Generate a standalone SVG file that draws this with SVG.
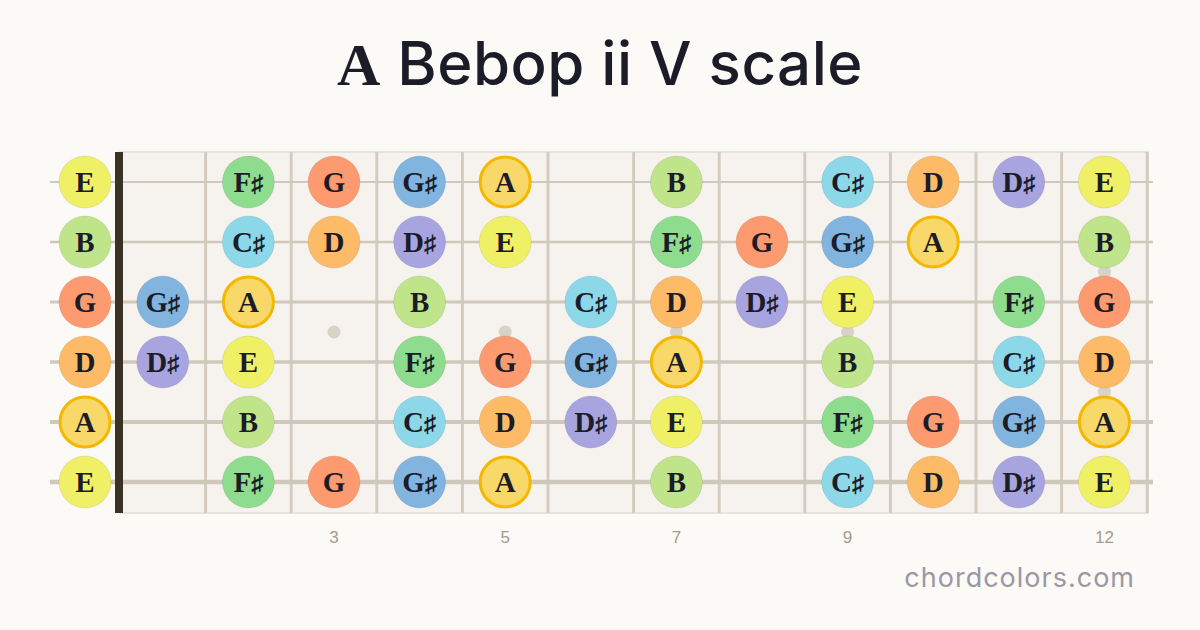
<svg xmlns="http://www.w3.org/2000/svg" width="1200" height="630" viewBox="0 0 1200 630">
<style>
.bg{fill:#fbfaf7}
.board{fill:#f6f3ef;stroke:#e2ddd5;stroke-width:1.5}
.fret{stroke:#d4ccc0;stroke-width:3}
.str{stroke:#d0c8bb}
.dot{fill:#d8d2c7}
.n circle{stroke:#00000014;stroke-width:1}
.n text{font-family:"Liberation Serif","DejaVu Serif",serif;font-weight:bold;font-size:29px;fill:#1c1c28;text-anchor:middle}
.n tspan{font-size:24px}
.root circle{stroke:#f5b800;stroke-width:3}
.E{fill:#f0f066}.B{fill:#c0e48a}.Fs{fill:#8edc8e}.Cs{fill:#8cd8e8}.G{fill:#fd9a70}.Gs{fill:#82b4e0}.D{fill:#fdbb68}.Ds{fill:#a8a4e0}.A{fill:#f9d86a}
.num{font-family:"Liberation Sans",Arial,sans-serif;font-size:17px;fill:#a39c8e;text-anchor:middle}
</style>
<rect class="bg" x="0" y="0" width="1200" height="630"/>
<g id="title">
<text x="600" y="85" text-anchor="middle" font-size="60" fill="#1c1c28" letter-spacing="0.5"><tspan font-family="Liberation Serif,serif" font-weight="bold">A</tspan><tspan font-family="Inter,'Open Sans',sans-serif" font-weight="500"> Bebop ii V  scale</tspan></text>
</g>
<g id="fretboard">
<rect class="board" x="120" y="152" width="1028" height="361"/>
<g class="fret">
<line x1="205.6" y1="152" x2="205.6" y2="513"/><line x1="291.2" y1="152" x2="291.2" y2="513"/><line x1="376.8" y1="152" x2="376.8" y2="513"/><line x1="462.4" y1="152" x2="462.4" y2="513"/><line x1="548" y1="152" x2="548" y2="513"/><line x1="633.6" y1="152" x2="633.6" y2="513"/><line x1="719.2" y1="152" x2="719.2" y2="513"/><line x1="804.8" y1="152" x2="804.8" y2="513"/><line x1="890.4" y1="152" x2="890.4" y2="513"/><line x1="976" y1="152" x2="976" y2="513"/><line x1="1061.6" y1="152" x2="1061.6" y2="513"/><line x1="1147.2" y1="152" x2="1147.2" y2="513"/>
</g>
<g id="markers">
<circle class="dot" cx="334" cy="332" r="6.5"/><circle class="dot" cx="505.2" cy="332" r="6.5"/><circle class="dot" cx="676.4" cy="332" r="6.5"/><circle class="dot" cx="847.6" cy="332" r="6.5"/><circle class="dot" cx="1104.4" cy="272" r="6.5"/><circle class="dot" cx="1104.4" cy="392" r="6.5"/>
</g>
<g id="strings" class="str">
<line x1="50" y1="182" x2="1153" y2="182" stroke-width="2"/>
<line x1="50" y1="242" x2="1153" y2="242" stroke-width="2.5"/>
<line x1="50" y1="302" x2="1153" y2="302" stroke-width="3"/>
<line x1="50" y1="362" x2="1153" y2="362" stroke-width="3.5"/>
<line x1="50" y1="422" x2="1153" y2="422" stroke-width="4"/>
<line x1="50" y1="482" x2="1153" y2="482" stroke-width="4.5"/>
</g>
<rect id="nut" x="115" y="152" width="8" height="361" fill="#3a3224"/>
</g>
<g id="numbers">
<text class="num" x="334" y="543">3</text><text class="num" x="505.2" y="543">5</text><text class="num" x="676.4" y="543">7</text><text class="num" x="847.6" y="543">9</text><text class="num" x="1104.4" y="543">12</text>
</g>
<g id="notes">
<g id="s1">
<g class="n"><circle class="E" cx="85" cy="182" r="26"/><text x="85" y="192">E</text></g>
<g class="n"><circle class="Fs" cx="248.4" cy="182" r="26"/><text x="248.4" y="192">F<tspan>♯</tspan></text></g>
<g class="n"><circle class="G" cx="334" cy="182" r="26"/><text x="334" y="192">G</text></g>
<g class="n"><circle class="Gs" cx="419.6" cy="182" r="26"/><text x="419.6" y="192">G<tspan>♯</tspan></text></g>
<g class="n root"><circle class="A" cx="505.2" cy="182" r="25"/><text x="505.2" y="192">A</text></g>
<g class="n"><circle class="B" cx="676.4" cy="182" r="26"/><text x="676.4" y="192">B</text></g>
<g class="n"><circle class="Cs" cx="847.6" cy="182" r="26"/><text x="847.6" y="192">C<tspan>♯</tspan></text></g>
<g class="n"><circle class="D" cx="933.2" cy="182" r="26"/><text x="933.2" y="192">D</text></g>
<g class="n"><circle class="Ds" cx="1018.8" cy="182" r="26"/><text x="1018.8" y="192">D<tspan>♯</tspan></text></g>
<g class="n"><circle class="E" cx="1104.4" cy="182" r="26"/><text x="1104.4" y="192">E</text></g>
</g>
<g id="s2">
<g class="n"><circle class="B" cx="85" cy="242" r="26"/><text x="85" y="252">B</text></g>
<g class="n"><circle class="Cs" cx="248.4" cy="242" r="26"/><text x="248.4" y="252">C<tspan>♯</tspan></text></g>
<g class="n"><circle class="D" cx="334" cy="242" r="26"/><text x="334" y="252">D</text></g>
<g class="n"><circle class="Ds" cx="419.6" cy="242" r="26"/><text x="419.6" y="252">D<tspan>♯</tspan></text></g>
<g class="n"><circle class="E" cx="505.2" cy="242" r="26"/><text x="505.2" y="252">E</text></g>
<g class="n"><circle class="Fs" cx="676.4" cy="242" r="26"/><text x="676.4" y="252">F<tspan>♯</tspan></text></g>
<g class="n"><circle class="G" cx="762" cy="242" r="26"/><text x="762" y="252">G</text></g>
<g class="n"><circle class="Gs" cx="847.6" cy="242" r="26"/><text x="847.6" y="252">G<tspan>♯</tspan></text></g>
<g class="n root"><circle class="A" cx="933.2" cy="242" r="25"/><text x="933.2" y="252">A</text></g>
<g class="n"><circle class="B" cx="1104.4" cy="242" r="26"/><text x="1104.4" y="252">B</text></g>
</g>
<g id="s3">
<g class="n"><circle class="G" cx="85" cy="302" r="26"/><text x="85" y="312">G</text></g>
<g class="n"><circle class="Gs" cx="162.8" cy="302" r="26"/><text x="162.8" y="312">G<tspan>♯</tspan></text></g>
<g class="n root"><circle class="A" cx="248.4" cy="302" r="25"/><text x="248.4" y="312">A</text></g>
<g class="n"><circle class="B" cx="419.6" cy="302" r="26"/><text x="419.6" y="312">B</text></g>
<g class="n"><circle class="Cs" cx="590.8" cy="302" r="26"/><text x="590.8" y="312">C<tspan>♯</tspan></text></g>
<g class="n"><circle class="D" cx="676.4" cy="302" r="26"/><text x="676.4" y="312">D</text></g>
<g class="n"><circle class="Ds" cx="762" cy="302" r="26"/><text x="762" y="312">D<tspan>♯</tspan></text></g>
<g class="n"><circle class="E" cx="847.6" cy="302" r="26"/><text x="847.6" y="312">E</text></g>
<g class="n"><circle class="Fs" cx="1018.8" cy="302" r="26"/><text x="1018.8" y="312">F<tspan>♯</tspan></text></g>
<g class="n"><circle class="G" cx="1104.4" cy="302" r="26"/><text x="1104.4" y="312">G</text></g>
</g>
<g id="s4">
<g class="n"><circle class="D" cx="85" cy="362" r="26"/><text x="85" y="372">D</text></g>
<g class="n"><circle class="Ds" cx="162.8" cy="362" r="26"/><text x="162.8" y="372">D<tspan>♯</tspan></text></g>
<g class="n"><circle class="E" cx="248.4" cy="362" r="26"/><text x="248.4" y="372">E</text></g>
<g class="n"><circle class="Fs" cx="419.6" cy="362" r="26"/><text x="419.6" y="372">F<tspan>♯</tspan></text></g>
<g class="n"><circle class="G" cx="505.2" cy="362" r="26"/><text x="505.2" y="372">G</text></g>
<g class="n"><circle class="Gs" cx="590.8" cy="362" r="26"/><text x="590.8" y="372">G<tspan>♯</tspan></text></g>
<g class="n root"><circle class="A" cx="676.4" cy="362" r="25"/><text x="676.4" y="372">A</text></g>
<g class="n"><circle class="B" cx="847.6" cy="362" r="26"/><text x="847.6" y="372">B</text></g>
<g class="n"><circle class="Cs" cx="1018.8" cy="362" r="26"/><text x="1018.8" y="372">C<tspan>♯</tspan></text></g>
<g class="n"><circle class="D" cx="1104.4" cy="362" r="26"/><text x="1104.4" y="372">D</text></g>
</g>
<g id="s5">
<g class="n root"><circle class="A" cx="85" cy="422" r="25"/><text x="85" y="432">A</text></g>
<g class="n"><circle class="B" cx="248.4" cy="422" r="26"/><text x="248.4" y="432">B</text></g>
<g class="n"><circle class="Cs" cx="419.6" cy="422" r="26"/><text x="419.6" y="432">C<tspan>♯</tspan></text></g>
<g class="n"><circle class="D" cx="505.2" cy="422" r="26"/><text x="505.2" y="432">D</text></g>
<g class="n"><circle class="Ds" cx="590.8" cy="422" r="26"/><text x="590.8" y="432">D<tspan>♯</tspan></text></g>
<g class="n"><circle class="E" cx="676.4" cy="422" r="26"/><text x="676.4" y="432">E</text></g>
<g class="n"><circle class="Fs" cx="847.6" cy="422" r="26"/><text x="847.6" y="432">F<tspan>♯</tspan></text></g>
<g class="n"><circle class="G" cx="933.2" cy="422" r="26"/><text x="933.2" y="432">G</text></g>
<g class="n"><circle class="Gs" cx="1018.8" cy="422" r="26"/><text x="1018.8" y="432">G<tspan>♯</tspan></text></g>
<g class="n root"><circle class="A" cx="1104.4" cy="422" r="25"/><text x="1104.4" y="432">A</text></g>
</g>
<g id="s6">
<g class="n"><circle class="E" cx="85" cy="482" r="26"/><text x="85" y="492">E</text></g>
<g class="n"><circle class="Fs" cx="248.4" cy="482" r="26"/><text x="248.4" y="492">F<tspan>♯</tspan></text></g>
<g class="n"><circle class="G" cx="334" cy="482" r="26"/><text x="334" y="492">G</text></g>
<g class="n"><circle class="Gs" cx="419.6" cy="482" r="26"/><text x="419.6" y="492">G<tspan>♯</tspan></text></g>
<g class="n root"><circle class="A" cx="505.2" cy="482" r="25"/><text x="505.2" y="492">A</text></g>
<g class="n"><circle class="B" cx="676.4" cy="482" r="26"/><text x="676.4" y="492">B</text></g>
<g class="n"><circle class="Cs" cx="847.6" cy="482" r="26"/><text x="847.6" y="492">C<tspan>♯</tspan></text></g>
<g class="n"><circle class="D" cx="933.2" cy="482" r="26"/><text x="933.2" y="492">D</text></g>
<g class="n"><circle class="Ds" cx="1018.8" cy="482" r="26"/><text x="1018.8" y="492">D<tspan>♯</tspan></text></g>
<g class="n"><circle class="E" cx="1104.4" cy="482" r="26"/><text x="1104.4" y="492">E</text></g>
</g>
</g>
<text id="watermark" x="1135" y="587" text-anchor="end" font-family="Inter,'Open Sans',sans-serif" font-size="27" fill="#9a98a4" letter-spacing="1">chordcolors.com</text>
</svg>
